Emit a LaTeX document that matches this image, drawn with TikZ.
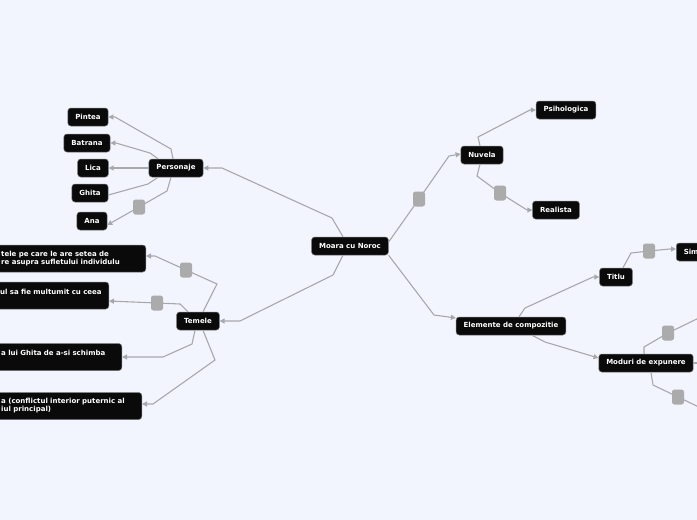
\documentclass[tikz,border=0pt]{standalone}
\usepackage{fontspec}
\setsansfont{DejaVu Sans}
\usetikzlibrary{arrows.meta}
\definecolor{canvas}{HTML}{F3F5FE}
\definecolor{nodebg}{HTML}{0A0A0A}
\definecolor{wire}{HTML}{A8A8AC}
\definecolor{relfill}{HTML}{ABABAB}

\begin{document}
\begin{tikzpicture}[x=1pt, y=-1pt,
  font=\sffamily\bfseries\fontsize{7}{8}\selectfont,
  box/.style={rectangle, rounded corners=3pt, draw=black!55, line width=0.5pt,
              fill=nodebg, text=white, minimum height=18pt,
              inner xsep=7.5pt, inner ysep=2pt},
  longbox/.style={box, minimum height=27pt, align=left, anchor=east},
  rel/.style={rectangle, rounded corners=2.5pt, fill=relfill,
              minimum width=12pt, minimum height=15pt, inner sep=0pt},
  arr/.style={wire, line width=1.1pt, -{Triangle[length=5pt, width=5pt]}},
  plain/.style={wire, line width=1.1pt}
]
  \useasboundingbox (0,0) rectangle (697,520);
  \fill[canvas] (0,0) rectangle (697,520);
  \clip (0,0) rectangle (697,520);

  % relation markers
  \coordinate (r1) at (419,199);
  \coordinate (r2) at (500,193);
  \coordinate (r3) at (649,251);
  \coordinate (r4) at (668,333);
  \coordinate (r5) at (678,397);
  \coordinate (r6) at (139,207);
  \coordinate (r7) at (186,270);
  \coordinate (r8) at (157,303);

  % topics
  \node[box] (moara)     at (350,246) {Moara cu Noroc};
  \node[box] (nuvela)    at (482,155) {Nuvela};
  \node[box] (psiho)     at (566,110) {Psihologica};
  \node[box] (realista)  at (556,210) {Realista};
  \node[box] (elemente)  at (511,326) {Elemente de compozitie};
  \node[box] (titlu)     at (616,277) {Titlu};
  \node[box, anchor=west] (sim) at (676,252) {Sim};
  \node[box] (moduri)    at (646,363) {Moduri de expunere};
  \node[box] (personaje) at (176,168) {Personaje};
  \node[box] (pintea)    at (88,117)  {Pintea};
  \node[box] (batrana)   at (87,143)  {Batrana};
  \node[box] (lica)      at (93,168)  {Lica};
  \node[box] (ghita)     at (90,193)  {Ghita};
  \node[box] (ana)       at (92,221)  {Ana};
  \node[box] (temele)    at (198,321) {Temele};
  \node[longbox, text width=137pt] (t1) at (146,258.5)
    {tele pe care le are setea de\\re asupra sufletului individulu};
  \node[longbox, text width=101pt] (t2) at (109,295.5)
    {\mbox{ul sa fie multumit cu ceea}\\~};
  \node[longbox, text width=113pt] (t3) at (122,357)
    {\mbox{a lui Ghita de a-si schimba}\\~};
  \node[longbox, text width=133pt] (t4) at (142,406)
    {a (conflictul interior puternic al\\iul principal)};

  % free ends beyond the right edge
  \coordinate (off1) at (705,315);
  \coordinate (off2) at (705,363);
  \coordinate (off3) at (705,410);

  % connectors
  \draw[arr] ([yshift=4pt]moara.east) -- (r1) -- (449,156) -- ([yshift=1pt]nuvela.west);
  \draw[arr] ([xshift=-2pt]nuvela.north) -- (478,137) -- (530,110) -- (psiho.west);
  \draw[arr] ([xshift=-2pt]nuvela.south) -- (477,176) -- (r2) -- (527,210) -- (realista.west);
  \draw[arr] (moara.south east) -- (434,315) -- ([yshift=8pt]elemente.west);
  \draw[arr] ([xshift=8pt]elemente.north) -- (525,308) -- (593,277) -- (titlu.west);
  \draw[arr] ([xshift=21pt]elemente.south) -- (545,342) -- ([yshift=5pt]moduri.west);
  \draw[arr] ([xshift=7pt]titlu.north) -- (631,253) -- (r3) -- (670,249) -- ([yshift=3pt]sim.west);
  \draw[plain] ([xshift=-2pt]moduri.north) -- (644,347) -- (r4) -- (off1);
  \draw[plain] (moduri.east) -- (off2);
  \draw[plain] ([xshift=5pt]moduri.south) -- (653,385) -- (r5) -- (off3);

  \draw[arr] ([xshift=-7pt]moara.north) -- (332,218) -- (222,168) -- (personaje.east);
  \draw[arr] ([xshift=-3pt]personaje.north) -- (171,149) -- (115,117) -- (pintea.east);
  \draw[arr] ([xshift=-18pt]personaje.north) -- (150,153) -- (116,143) -- (batrana.east);
  \draw[arr] (personaje.west) -- (lica.east);
  \draw[plain] ([xshift=-18pt]personaje.south) -- (148,184) -- ([yshift=-2pt]ghita.east);
  \draw[arr] ([xshift=-5pt]personaje.south) -- (167,191) -- (r6) -- ([yshift=-4pt]ana.east);

  \draw[arr] ([xshift=-7pt]moara.south) -- (333,275) -- (240,321) -- (temele.east);
  \draw[arr] ([xshift=5pt]temele.north) -- (217,284) -- (r7) -- (155,256) -- ([yshift=2.5pt]t1.east);
  \draw[arr] ([xshift=-10pt]temele.north) -- (180,304) -- (r8) -- ([yshift=-5.5pt]t2.east);
  \draw[arr] ([xshift=-3pt]temele.south) -- (192,344) -- (163,357) -- (t3.east);
  \draw[arr] ([xshift=5pt]temele.south) -- (215,360) -- (153,404) -- ([yshift=2pt]t4.east);

  % relation markers on top
  \foreach \r in {r1,r2,r3,r4,r5,r6,r7,r8}
    \node[rel] (\r box) at (\r) {};
\end{tikzpicture}
\end{document}
